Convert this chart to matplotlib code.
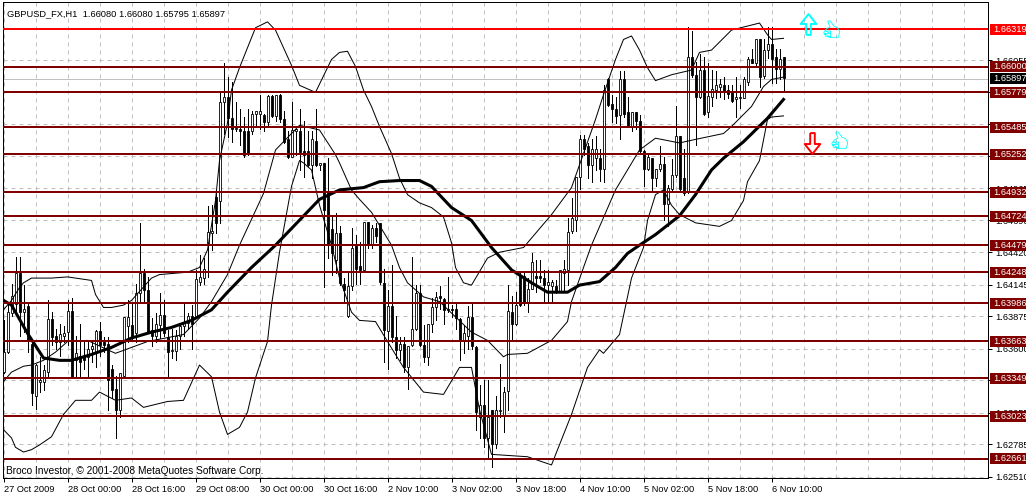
import matplotlib
matplotlib.use("Agg")
import matplotlib.pyplot as plt
from matplotlib.path import Path

# all prices are in pips (price * 10000)
opens = [16340, 16357, 16390, 16398, 16424, 16391, 16396, 16364, 16320, 16332,
         16332, 16340, 16385, 16371, 16366, 16371, 16374, 16392, 16350, 16354,
         16354, 16353, 16360, 16357, 16375, 16366, 16364, 16343, 16326, 16308,
         16337, 16379, 16380, 16373, 16407, 16424, 16410, 16376, 16371, 16380,
         16389, 16370, 16358, 16358, 16371, 16379, 16382, 16388, 16387, 16417,
         16420, 16448, 16458, 16489, 16486, 16570, 16574, 16556, 16547, 16547,
         16545, 16545, 16545, 16560, 16560, 16559, 16553, 16575, 16558, 16576,
         16555, 16538, 16523, 16545, 16545, 16528, 16528, 16516, 16537, 16516,
         16518, 16494, 16462, 16435, 16458, 16415, 16388, 16413, 16448, 16430,
         16427, 16468, 16448, 16463, 16467, 16416, 16375, 16396, 16370, 16359,
         16364, 16344, 16363, 16377, 16407, 16363, 16353, 16381, 16395, 16405,
         16402, 16393, 16394, 16394, 16385, 16367, 16371, 16387, 16361, 16302,
         16312, 16284, 16308, 16279, 16307, 16303, 16324, 16391, 16381, 16422,
         16422, 16400, 16411, 16422, 16422, 16420, 16414, 16413, 16413, 16409,
         16424, 16427, 16460, 16469, 16506, 16538, 16532, 16516, 16522, 16522,
         16513, 16589, 16568, 16564, 16559, 16589, 16561, 16549, 16561, 16554,
         16528, 16513, 16522, 16505, 16513, 16517, 16483, 16496, 16508, 16541,
         16505, 16494, 16608, 16593, 16574, 16597, 16561, 16574, 16580, 16583,
         16584, 16580, 16578, 16572, 16573, 16573, 16587, 16606, 16603, 16623,
         16592, 16614, 16619, 16608, 16598, 16608]
closes = [16357, 16391, 16405, 16424, 16391, 16394, 16367, 16322, 16346, 16333,
          16342, 16385, 16370, 16366, 16372, 16373, 16392, 16336, 16356, 16349,
          16350, 16360, 16362, 16375, 16363, 16363, 16333, 16325, 16308, 16339,
          16387, 16387, 16371, 16407, 16424, 16410, 16374, 16371, 16381, 16389,
          16373, 16357, 16359, 16371, 16379, 16383, 16388, 16381, 16419, 16421,
          16428, 16459, 16460, 16467, 16570, 16574, 16556, 16547, 16548, 16545,
          16525, 16526, 16560, 16562, 16562, 16553, 16575, 16558, 16576, 16555,
          16536, 16523, 16546, 16547, 16527, 16525, 16516, 16538, 16516, 16518,
          16478, 16448, 16441, 16458, 16416, 16410, 16413, 16446, 16428, 16427,
          16468, 16448, 16463, 16456, 16417, 16376, 16396, 16370, 16359, 16364,
          16344, 16362, 16377, 16407, 16363, 16353, 16381, 16395, 16404, 16403,
          16393, 16394, 16393, 16386, 16367, 16373, 16387, 16362, 16306, 16312,
          16284, 16302, 16279, 16308, 16308, 16323, 16392, 16381, 16397, 16397,
          16400, 16411, 16434, 16420, 16420, 16414, 16417, 16417, 16409, 16427,
          16428, 16459, 16471, 16506, 16538, 16530, 16516, 16530, 16530, 16513,
          16580, 16567, 16564, 16558, 16589, 16560, 16549, 16561, 16554, 16528,
          16513, 16523, 16505, 16513, 16517, 16483, 16497, 16508, 16541, 16496,
          16492, 16608, 16593, 16574, 16597, 16560, 16575, 16581, 16584, 16585,
          16579, 16577, 16571, 16574, 16574, 16589, 16606, 16603, 16623, 16591,
          16614, 16619, 16606, 16598, 16606, 16590]
highs = [16384, 16397, 16415, 16438, 16438, 16414, 16400, 16366, 16347, 16353,
         16346, 16401, 16391, 16377, 16381, 16379, 16401, 16403, 16371, 16381,
         16367, 16367, 16367, 16376, 16383, 16370, 16370, 16346, 16337, 16339,
         16387, 16401, 16400, 16415, 16467, 16428, 16421, 16386, 16390, 16407,
         16401, 16376, 16377, 16376, 16380, 16398, 16390, 16397, 16427, 16440,
         16437, 16481, 16482, 16495, 16579, 16603, 16591, 16587, 16570, 16564,
         16557, 16564, 16562, 16562, 16576, 16560, 16576, 16576, 16576, 16577,
         16562, 16545, 16570, 16547, 16564, 16554, 16545, 16545, 16564, 16518,
         16518, 16522, 16472, 16475, 16464, 16420, 16424, 16463, 16457, 16451,
         16468, 16468, 16465, 16467, 16467, 16428, 16410, 16431, 16388, 16370,
         16370, 16362, 16438, 16414, 16414, 16380, 16381, 16403, 16408, 16413,
         16403, 16421, 16397, 16398, 16386, 16380, 16396, 16398, 16362, 16329,
         16333, 16333, 16308, 16320, 16347, 16327, 16414, 16405, 16408, 16424,
         16425, 16420, 16441, 16435, 16435, 16427, 16427, 16418, 16418, 16427,
         16435, 16471, 16488, 16506, 16542, 16542, 16535, 16538, 16541, 16530,
         16584, 16590, 16576, 16574, 16596, 16596, 16574, 16561, 16561, 16559,
         16529, 16525, 16522, 16513, 16532, 16523, 16499, 16521, 16566, 16541,
         16530, 16634, 16630, 16604, 16611, 16608, 16603, 16597, 16596, 16589,
         16591, 16584, 16584, 16591, 16584, 16591, 16608, 16615, 16623, 16623,
         16623, 16634, 16634, 16615, 16615, 16608]
lows = [16339, 16356, 16388, 16391, 16371, 16374, 16357, 16312, 16309, 16323,
        16325, 16337, 16363, 16360, 16354, 16366, 16363, 16336, 16336, 16336,
        16343, 16337, 16349, 16344, 16354, 16357, 16308, 16318, 16284, 16302,
        16336, 16366, 16367, 16366, 16400, 16400, 16373, 16362, 16366, 16369,
        16371, 16337, 16352, 16350, 16360, 16371, 16377, 16360, 16386, 16414,
        16415, 16421, 16444, 16458, 16467, 16543, 16540, 16536, 16545, 16533,
        16523, 16525, 16543, 16550, 16547, 16545, 16549, 16557, 16554, 16553,
        16535, 16522, 16523, 16525, 16512, 16506, 16515, 16505, 16515, 16512,
        16412, 16437, 16423, 16424, 16414, 16400, 16387, 16410, 16415, 16415,
        16425, 16446, 16446, 16451, 16415, 16349, 16343, 16366, 16352, 16350,
        16340, 16326, 16362, 16376, 16362, 16349, 16346, 16374, 16384, 16394,
        16381, 16391, 16387, 16377, 16350, 16356, 16360, 16360, 16291, 16284,
        16276, 16268, 16259, 16275, 16302, 16289, 16308, 16367, 16380, 16396,
        16397, 16391, 16411, 16408, 16417, 16400, 16400, 16400, 16407, 16408,
        16408, 16414, 16458, 16460, 16496, 16525, 16505, 16502, 16512, 16503,
        16502, 16566, 16553, 16552, 16538, 16557, 16549, 16545, 16547, 16526,
        16498, 16512, 16494, 16498, 16511, 16469, 16464, 16495, 16506, 16495,
        16491, 16492, 16591, 16533, 16573, 16559, 16557, 16566, 16573, 16574,
        16572, 16573, 16570, 16557, 16565, 16573, 16584, 16603, 16601, 16583,
        16590, 16607, 16586, 16586, 16589, 16580]

upper_bars = [0, 2, 4, 5, 7, 12, 16, 22, 23, 25, 27, 30, 32, 37, 39, 46, 49, 51, 53, 54,
              56, 57, 59, 63, 66, 68, 72, 74, 78, 82, 84, 86, 88, 90, 92, 94, 97, 99,
              101, 104, 107, 110, 112, 113, 115, 117, 121, 124, 130, 137, 142, 148, 150,
              153, 155, 157, 159, 161, 163, 167, 172, 174, 177, 182, 189, 191, 192, 195]
upper_band = [16393, 16401, 16412, 16416, 16420, 16420, 16421, 16418, 16406, 16395, 16395,
              16397, 16401, 16420, 16423, 16425, 16429, 16444, 16486, 16520, 16552, 16580,
              16599, 16633, 16638, 16631, 16601, 16584, 16578, 16606, 16612, 16613, 16600,
              16580, 16566, 16549, 16526, 16505, 16491, 16484, 16480, 16472, 16450, 16429,
              16416, 16414, 16437, 16442, 16446, 16474, 16497, 16555, 16576, 16606, 16623,
              16626, 16614, 16599, 16588, 16593, 16597, 16612, 16614, 16631, 16637, 16627,
              16623, 16624]

middle_bars = [0, 2, 5, 7, 10, 13, 16, 21, 26, 28, 32, 36, 45, 49, 52, 56, 59, 65, 68, 74,
               79, 83, 84, 87, 89, 92, 97, 99, 101, 105, 109, 117, 121, 125, 126, 131, 137,
               141, 142, 145, 147, 153, 159, 163, 169, 173, 180, 182, 187, 190, 192, 195]
middle_band = [16332, 16340, 16345, 16346, 16350, 16357, 16366, 16367, 16359, 16356, 16361,
               16366, 16372, 16386, 16400, 16423, 16448, 16492, 16529, 16550, 16546, 16525,
               16518, 16495, 16487, 16476, 16448, 16429, 16416, 16404, 16400, 16374, 16367,
               16353, 16355, 16356, 16367, 16383, 16400, 16429, 16448, 16495, 16529, 16539,
               16535, 16538, 16543, 16549, 16566, 16583, 16589, 16591]

lower_bars = [0, 2, 3, 5, 7, 9, 12, 15, 18, 22, 24, 28, 32, 35, 41, 45, 49, 52, 54, 56, 59,
              61, 63, 66, 67, 69, 72, 74, 75, 77, 79, 82, 84, 87, 89, 93, 96, 100, 105, 110,
              114, 117, 119, 122, 131, 137, 142, 146, 149, 150, 154, 157, 160, 161, 163,
              165, 167, 169, 173, 179, 182, 185, 186, 189, 191, 192, 195]
lower_band = [16291, 16284, 16276, 16272, 16274, 16278, 16285, 16304, 16316, 16316, 16323,
              16316, 16318, 16310, 16315, 16316, 16346, 16336, 16306, 16287, 16293, 16306,
              16335, 16366, 16397, 16442, 16498, 16520, 16518, 16512, 16482, 16448, 16420,
              16391, 16384, 16383, 16366, 16344, 16323, 16321, 16344, 16344, 16308, 16270,
              16268, 16261, 16304, 16344, 16359, 16356, 16372, 16420, 16446, 16469, 16491,
              16495, 16482, 16474, 16467, 16464, 16469, 16486, 16502, 16520, 16555, 16557,
              16558]

ma_bars = [0, 2, 6, 10, 14, 17, 22, 27, 32, 37, 42, 47, 52, 56, 62, 68, 79, 84, 90, 94, 99,
           104, 107, 112, 117, 122, 127, 132, 136, 141, 144, 149, 153, 156, 159, 163, 169,
           173, 177, 180, 185, 191, 195]
ma_line = [16401, 16397, 16373, 16352, 16350, 16350, 16355, 16361, 16369, 16374, 16378,
           16384, 16393, 16408, 16429, 16448, 16487, 16495, 16497, 16502, 16503, 16503,
           16498, 16480, 16469, 16446, 16427, 16416, 16408, 16408, 16414, 16417, 16429,
           16441, 16448, 16457, 16473, 16491, 16512, 16522, 16536, 16556, 16572]

levels = [1.66319, 1.66000, 1.65779, 1.65485, 1.65252, 1.64932, 1.64724, 1.64479,
          1.64248, 1.63986, 1.63663, 1.63349, 1.63023, 1.62661]
level_colors = ['#ff0000'] + ['#800000'] * 13
last_price = 1.65897

price_ticks = [1.66055, 1.65785, 1.65510, 1.65240, 1.64965, 1.64690, 1.64420,
               1.64145, 1.63875, 1.63600, 1.63330, 1.63055, 1.62785, 1.62510]
time_bars = [0, 16, 32, 48, 64, 80, 96, 112, 128, 144, 160, 176, 192]
time_labels = ['27 Oct 2009', '28 Oct 00:00', '28 Oct 16:00', '29 Oct 08:00', '30 Oct 00:00',
               '30 Oct 16:00', '2 Nov 10:00', '3 Nov 02:00', '3 Nov 18:00', '4 Nov 10:00',
               '5 Nov 02:00', '5 Nov 18:00', '6 Nov 10:00']

plt.rcParams['font.family'] = ['Liberation Sans', 'DejaVu Sans']
label_size = 6.7

fig = plt.figure(figsize=(10.26, 4.95), dpi=100, facecolor='white')
ax = fig.add_axes([3 / 1026, 17 / 495, 985 / 1026, 476 / 495])
ax.set_xlim(-0.125, 246.125)
ax.set_ylim(1.62499, 1.66549)
ax.set_axisbelow(True)

# grid is dashed and sits under the candles
ax.set_xticks(range(0, 246, 8), minor=True)
ax.set_xticks(time_bars)
ax.set_xticklabels(time_labels, fontsize=label_size, ha='left', color='black')
ax.set_yticks(price_ticks)
ax.set_yticklabels(['%.5f' % p for p in price_ticks], fontsize=label_size)
ax.yaxis.tick_right()
ax.tick_params(axis='both', which='major', length=3, width=0.72, color='black', pad=2)
ax.tick_params(axis='x', which='minor', length=0)
ax.grid(True, which='both', color='#c0c0c0', linestyle=(0, (4, 4)), linewidth=0.72)
for spine in ax.spines.values():
    spine.set_linewidth(0.72)

# candles
bars = list(range(len(opens)))
o = [v / 10000 for v in opens]
c = [v / 10000 for v in closes]
h = [v / 10000 for v in highs]
l = [v / 10000 for v in lows]
ax.vlines(bars, l, h, color='black', linewidth=0.72, antialiased=False, zorder=2)
for i in bars:
    down = c[i] < o[i]
    ax.bar(i, abs(c[i] - o[i]), bottom=min(o[i], c[i]), width=0.5,
           facecolor='black' if down else 'white', edgecolor='black',
           linewidth=0.6, zorder=3)

# bands and moving average
for xs, ys in [(upper_bars, upper_band), (middle_bars, middle_band), (lower_bars, lower_band)]:
    ax.plot(xs, [v / 10000 for v in ys], color='black', linewidth=0.72, zorder=4)
ax.plot(ma_bars, [v / 10000 for v in ma_line], color='black', linewidth=2.2, zorder=4)

# current price and the hand drawn levels
ax.axhline(last_price, color='#c0c0c0', linewidth=0.72, zorder=1.5)
for lev, col in zip(levels, level_colors):
    ax.axhline(lev, color=col, linewidth=1.44, zorder=5)

# price tags on the right, they cover some of the tick labels
for lev, col in list(zip(levels, level_colors)) + [(last_price, 'black')]:
    ax.barh(lev, 12, left=246.6, height=0.00094, color=col, clip_on=False, zorder=6)
    ax.text(247.5, lev, '%.5f' % lev, fontsize=label_size, color='white',
            va='center', ha='left', clip_on=False, zorder=7)

ax.text(0.004, 0.984, 'GBPUSD_FX,H1  1.66080 1.66080 1.65795 1.65897', transform=ax.transAxes,
        fontsize=label_size, va='top', ha='left', color='black')
ax.text(0.003, 0.004, 'Broco Investor, © 2001-2008 MetaQuotes Software Corp.', transform=ax.transAxes,
        fontsize=7.3, va='bottom', ha='left', color='black')

# arrows and thumbs next to the last candle
up_arrow = Path([(-0.22, -1), (0.22, -1), (0.22, 0.05), (0.75, 0.05), (0, 1), (-0.75, 0.05),
                 (-0.22, 0.05), (-0.22, -1)])
down_arrow = Path([(-0.22, 1), (0.22, 1), (0.22, -0.05), (0.75, -0.05), (0, -1), (-0.75, -0.05),
                   (-0.22, -0.05), (-0.22, 1)])
ax.plot([201], [1.6636], marker=up_arrow, markersize=15, markerfacecolor='none',
        markeredgecolor='#00ffff', markeredgewidth=1.4, linestyle='none', zorder=6)
ax.plot([202], [1.6535], marker=down_arrow, markersize=15, markerfacecolor='none',
        markeredgecolor='#ff0000', markeredgewidth=1.4, linestyle='none', zorder=6)
thumb = Path([(-0.2, -0.7), (-0.7, -0.6), (-0.9, -0.2), (-0.6, 0.2), (-0.25, 0.35), (-0.5, 0.95),
              (-0.25, 1.0), (0.15, 0.45), (0.5, 0.3), (0.75, -0.1), (0.6, -0.7), (-0.2, -0.7),
              (-0.85, -0.3), (-0.3, -0.3), (-0.7, -0.05), (-0.2, -0.05), (-0.2, -0.7)])
ax.plot([207, 209], [1.6631, 1.6537], linestyle='none', marker=thumb, markersize=14,
        markerfacecolor='none', markeredgecolor='#00ffff', markeredgewidth=0.6, zorder=6)

fig.savefig('out.png', dpi=100, facecolor='white')
